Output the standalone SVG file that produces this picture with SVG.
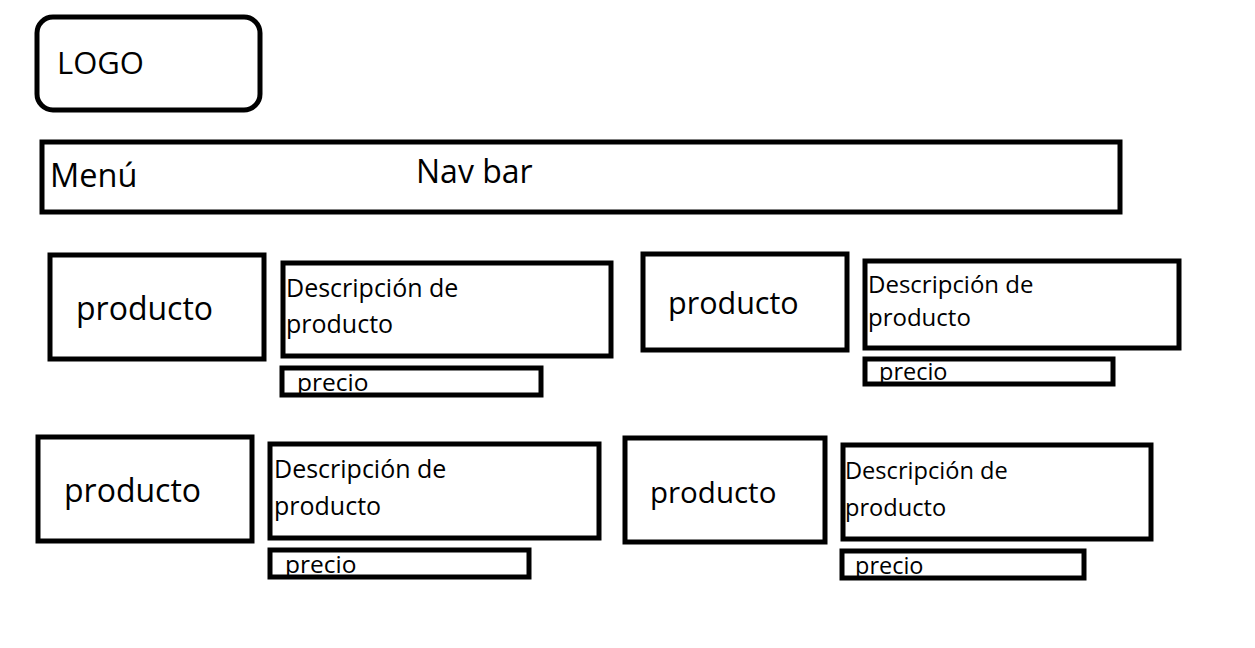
<svg xmlns="http://www.w3.org/2000/svg" width="1255" height="648" viewBox="0 0 1255 648">
<style>
.box{fill:#fff;stroke:#000;stroke-width:5}
text{font-family:"Open Sans","Noto Sans","DejaVu Sans",sans-serif;fill:#000}
.big{font-size:32px}
.mid{font-size:25px}
.sm{font-size:24.5px}
</style>
<rect width="1255" height="648" fill="#fff"/>
<g id="logo"><rect class="box" x="37" y="17" width="223" height="93" rx="16"/><text class="big" x="57" y="74" style="font-size:31px">LOGO</text></g>
<g id="navbar"><rect class="box" x="42" y="142" width="1078" height="70"/><text class="big" x="50" y="187" style="font-size:32.5px">Menú</text><text class="big" x="416" y="183">Nav bar</text></g>
<g id="producto1"><rect class="box" x="50" y="255" width="214" height="104"/><text class="big" x="76" y="320">producto</text></g>
<g id="descripcion1"><rect class="box" x="283" y="263" width="328" height="93"/><text class="mid" x="286" y="297">Descripción de</text><text class="mid" x="286" y="333">producto</text></g>
<g id="precio1"><rect class="box" x="282" y="368" width="259" height="27"/><text class="sm" x="297" y="391">precio</text></g>
<g id="producto2"><rect class="box" x="643" y="254" width="204" height="96"/><text class="big" x="668" y="314" style="font-size:30.5px">producto</text></g>
<g id="descripcion2"><rect class="box" x="865" y="261" width="314" height="87"/><text class="mid" x="868" y="293" style="font-size:24px">Descripción de</text><text class="mid" x="868" y="326" style="font-size:24px">producto</text></g>
<g id="precio2"><rect class="box" x="865" y="359" width="248" height="25"/><text class="sm" x="879" y="380" style="font-size:23.5px">precio</text></g>
<g id="producto3"><rect class="box" x="38" y="437" width="214" height="104"/><text class="big" x="64" y="502">producto</text></g>
<g id="descripcion3"><rect class="box" x="270" y="444" width="329" height="94"/><text class="mid" x="274" y="478">Descripción de</text><text class="mid" x="274" y="515">producto</text></g>
<g id="precio3"><rect class="box" x="270" y="550" width="259" height="27"/><text class="sm" x="285" y="573">precio</text></g>
<g id="producto4"><rect class="box" x="625" y="438" width="200" height="104"/><text class="big" x="650" y="503" style="font-size:29.5px">producto</text></g>
<g id="descripcion4"><rect class="box" x="843" y="445" width="308" height="94"/><text class="mid" x="845" y="479" style="font-size:23.6px">Descripción de</text><text class="mid" x="845" y="516" style="font-size:23.6px">producto</text></g>
<g id="precio4"><rect class="box" x="842" y="551" width="242" height="27"/><text class="sm" x="855" y="574" style="font-size:23.5px">precio</text></g>
<g id="connectors"></g>
</svg>
